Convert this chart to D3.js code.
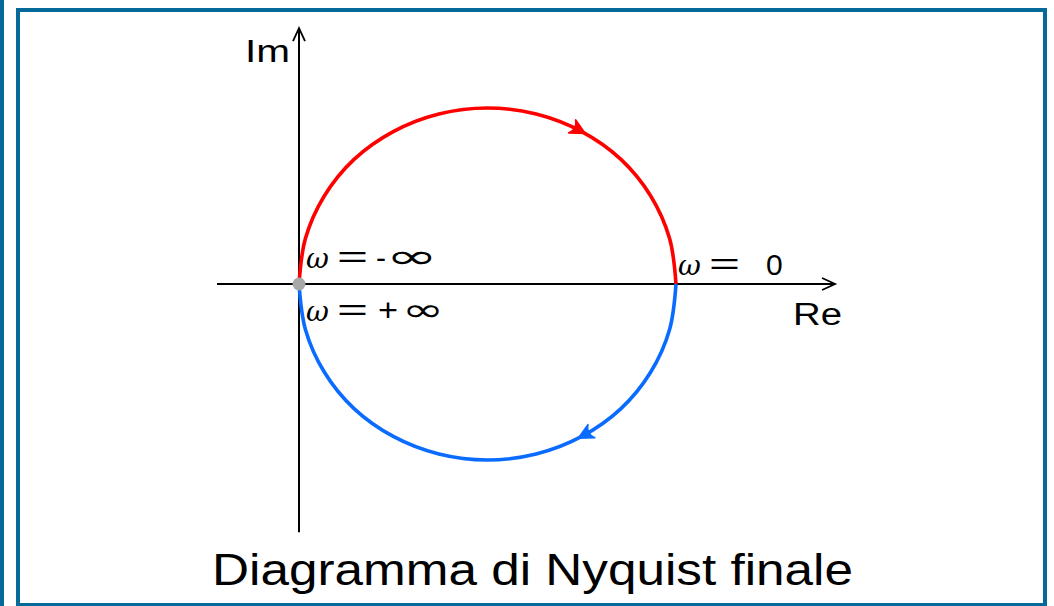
<!DOCTYPE html>
<html>
<head>
<meta charset="utf-8">
<script src="https://cdn.jsdelivr.net/npm/d3@7"></script>
<style>
  html, body { margin: 0; padding: 0; background: #fff; }
  svg { display: block; }
</style>
</head>
<body>
<svg id="chart" width="1054" height="606"></svg>
<script>
// Nyquist curve samples G(jw) for negative frequencies (upper half, w: -inf -> 0)
const reNeg = [0, 0.017, 0.067, 0.146, 0.25, 0.371, 0.5, 0.629, 0.75, 0.854, 0.933, 0.983, 1];
const imNeg = [0, 0.129, 0.25, 0.354, 0.433, 0.483, 0.5, 0.483, 0.433, 0.354, 0.25, 0.129, 0];
// positive frequencies (lower half, w: 0 -> +inf)
const rePos = [1, 0.983, 0.933, 0.854, 0.75, 0.629, 0.5, 0.371, 0.25, 0.146, 0.067, 0.017, 0];
const imPos = [0, -0.129, -0.25, -0.354, -0.433, -0.483, -0.5, -0.483, -0.433, -0.354, -0.25, -0.129, 0];
// axis extents in the complex plane
const reAxis = [-0.2175, 1.422];
const imAxis = [-0.705, 0.727];
const title = "Diagramma di Nyquist finale";

const svg = d3.select("#chart");
const frameColor = "#05699a";

// frame
svg.append("rect").attr("x", 0).attr("y", 0).attr("width", 4).attr("height", 606).attr("fill", frameColor);
svg.append("rect").attr("x", 18).attr("y", 10).attr("width", 1027).attr("height", 595)
  .attr("fill", "none").attr("stroke", frameColor).attr("stroke-width", 4);

const x = d3.scaleLinear().domain([0, 1]).range([299, 676]);
const y = d3.scaleLinear().domain([0, 0.5]).range([284, 108]);

// axes
const axisG = svg.append("g").attr("stroke", "#000").attr("stroke-width", 2).attr("fill", "none");
axisG.append("line").attr("x1", x(reAxis[0])).attr("x2", x(reAxis[1])).attr("y1", y(0)).attr("y2", y(0));
axisG.append("line").attr("x1", x(0)).attr("x2", x(0)).attr("y1", y(imAxis[0])).attr("y2", y(imAxis[1]));
// open arrow tips
const tipRe = [x(reAxis[1]), y(0)];
axisG.append("path").attr("stroke-width", 1.8)
  .attr("d", `M${tipRe[0] - 13},${tipRe[1] - 6} L${tipRe[0]},${tipRe[1]} L${tipRe[0] - 13},${tipRe[1] + 6}`);
const tipIm = [x(0), y(imAxis[1])];
axisG.append("path").attr("stroke-width", 1.8)
  .attr("d", `M${tipIm[0] - 6},${tipIm[1] + 13} L${tipIm[0]},${tipIm[1]} L${tipIm[0] + 6},${tipIm[1] + 13}`);

// curve branches
const line = d3.line().x(d => x(d[0])).y(d => y(d[1])).curve(d3.curveCatmullRom);
const neg = reNeg.map((r, i) => [r, imNeg[i]]);
const pos = rePos.map((r, i) => [r, imPos[i]]);

svg.append("path").datum(neg).attr("d", line).attr("fill", "none")
  .attr("stroke", "#ff0000").attr("stroke-width", 3.6);
svg.append("path").datum(pos).attr("d", line).attr("fill", "none")
  .attr("stroke", "#0a6cff").attr("stroke-width", 3.6);

// direction arrows along each branch
function arrowAt(pts, i, color) {
  const p = [x(pts[i][0]), y(pts[i][1])];
  const a = [x(pts[i - 1][0]), y(pts[i - 1][1])];
  const b = [x(pts[i + 1][0]), y(pts[i + 1][1])];
  const ang = Math.atan2(b[1] - a[1], b[0] - a[0]) * 180 / Math.PI;
  svg.append("path")
    .attr("d", "M4,0 L-11,-7.5 Q-5,0 -11,7.5 Z")
    .attr("fill", color).attr("stroke", color).attr("stroke-width", 1.5)
    .attr("stroke-linejoin", "round")
    .attr("transform", `translate(${p[0]},${p[1]}) rotate(${ang})`);
}
arrowAt(neg, 8, "#ff0000");
arrowAt(pos, 4, "#0a6cff");

// origin marker
svg.append("circle").attr("cx", x(0)).attr("cy", y(0)).attr("r", 6.5).attr("fill", "#a8a8a8");

// labels
const sans = "'Liberation Sans', Arial, sans-serif";
const dsans = "'DejaVu Sans', sans-serif";
const serif = "'DejaVu Serif', 'Liberation Serif', serif";
function glyph(t, px, py, opts = {}) {
  const el = svg.append("text").attr("x", px).attr("y", py).text(t)
    .attr("font-family", opts.family || sans)
    .attr("font-size", opts.size || 30)
    .attr("fill", "#000");
  if (opts.italic) el.attr("font-style", "italic");
  if (opts.len) el.attr("textLength", opts.len).attr("lengthAdjust", "spacingAndGlyphs");
  return el;
}
function omegaLabel(px, py, rest) {
  glyph("ω", px, py, { family: serif, italic: true, size: 28 });
  glyph("=", px + 31, py - 1, { size: 30, len: 31 });
  rest.forEach(r => glyph(r.t, px + r.dx, py, { family: r.family, size: r.size || 30, len: r.len }));
}
omegaLabel(306, 268, [{ t: "-", dx: 70, size: 30, len: 10 },
                      { t: "∞", dx: 80, family: dsans, size: 34, len: 52 }]);
omegaLabel(306, 321, [{ t: "+", dx: 72, size: 32, len: 20 },
                      { t: "∞", dx: 96, family: dsans, size: 32, len: 42 }]);
omegaLabel(678, 275, [{ t: "0", dx: 88, size: 30 }]);

glyph("Re", 793, 325, { size: 31, len: 49 });
glyph("Im", 245, 62, { size: 31, len: 45 });

svg.append("text").attr("x", 212).attr("y", 585).text(title)
  .attr("font-family", sans).attr("font-size", 44)
  .attr("textLength", 641).attr("lengthAdjust", "spacingAndGlyphs")
  .attr("fill", "#000");
</script>
</body>
</html>
